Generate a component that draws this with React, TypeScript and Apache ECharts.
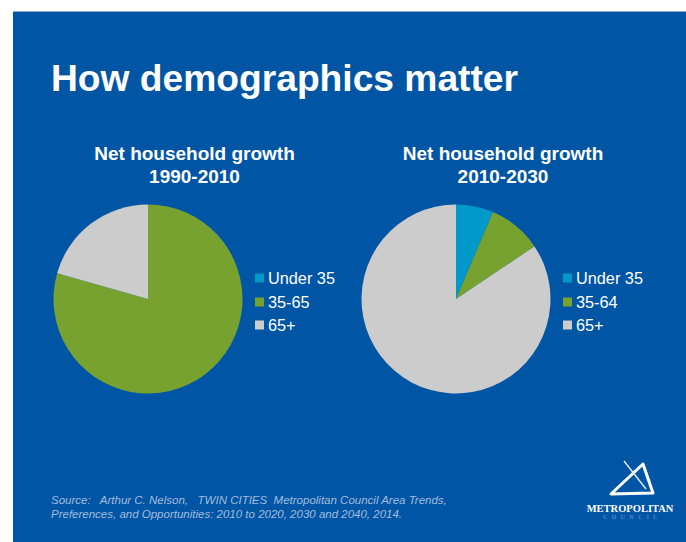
import React, { useEffect, useRef } from "react";
import * as echarts from "echarts";

const categoriesLeft = ["Under 35", "35-65", "65+"];
const valuesLeft = [0, 79.4, 20.6];
const categoriesRight = ["Under 35", "35-64", "65+"];
const valuesRight = [6.4, 9.2, 84.4];
const colors = ["#0099C9", "#78A22F", "#CCCCCC"];

const titleMain = "How demographics matter";
const titleLeft = ["Net household growth", "1990-2010"];
const titleRight = ["Net household growth", "2010-2030"];
const sourceLines = [
  "Source:   Arthur C. Nelson,   TWIN CITIES  Metropolitan Council Area Trends,",
  "Preferences, and Opportunities: 2010 to 2020, 2030 and 2040, 2014.",
];

const FONT = "'Liberation Sans', Arial, sans-serif";
const BG = "#0055A5";

export default function App() {
  const ref = useRef<HTMLDivElement>(null);
  useEffect(() => {
    if (!ref.current) return;
    const chart = echarts.init(ref.current, undefined, { renderer: "svg" });

    const legendTops = [270, 294, 317];
    const mkLegends = (cats: string[], left: number) =>
      cats.map((c, i) => ({
        data: [c],
        left,
        top: legendTops[i],
        orient: "vertical",
        icon: "rect",
        itemWidth: 9,
        itemHeight: 9,
        itemGap: 4,
        padding: 0,
        selectedMode: false,
        textStyle: { color: "#FFFFFF", fontSize: 16.3, fontFamily: FONT, padding: [3, 0, 0, -1] },
      }));

    const mkPie = (data: number[], cats: string[], cx: number) => ({
      type: "pie",
      center: [cx, 299],
      radius: 94.5,
      startAngle: 90,
      clockwise: true,
      label: { show: false },
      labelLine: { show: false },
      silent: true,
      minAngle: 0,
      stillShowZeroSum: false,
      itemStyle: { borderWidth: 0 },
      data: data.map((v, i) => ({ name: cats[i], value: v, itemStyle: { color: colors[i] } })),
    });

    const sub = (text: string, x: number, y: number) => ({
      type: "text", x, y,
      style: { text, fill: "#FFFFFF", font: `bold 19px ${FONT}`, textAlign: "center", textVerticalAlign: "middle" },
    });

    chart.setOption({
      animation: false,
      backgroundColor: "#FFFFFF",
      color: colors,
      legend: [...mkLegends(categoriesLeft, 255), ...mkLegends(categoriesRight, 563)],
      graphic: [
        { type: "rect", shape: { x: 13, y: 11, width: 673, height: 531 }, style: { fill: BG }, z: -10 },
        { type: "line", shape: { x1: 13, y1: 11.5, x2: 686, y2: 11.5 }, style: { stroke: "#8FA9CF", lineWidth: 1 }, z: -9 },
        {
          type: "text", x: 51, y: 78,
          style: { text: titleMain, fill: "#FFFFFF", font: `bold 37.2px ${FONT}`, textVerticalAlign: "middle" },
        },
        sub(titleLeft[0], 194.5, 153),
        sub(titleLeft[1], 194.5, 176),
        sub(titleRight[0], 503, 153),
        sub(titleRight[1], 503, 176),
        {
          type: "text", x: 51, y: 500,
          style: { text: sourceLines[0], fill: "#A3BCDD", font: `italic 11.5px ${FONT}`, textVerticalAlign: "middle" },
        },
        {
          type: "text", x: 51, y: 513.5,
          style: { text: sourceLines[1], fill: "#A3BCDD", font: `italic 11.5px ${FONT}`, textVerticalAlign: "middle" },
        },
        // logo
        {
          type: "polygon",
          shape: { points: [[643, 464], [611, 494], [653, 493]] },
          style: { fill: "none", stroke: "#FFFFFF", lineWidth: 3, lineJoin: "round" },
        },
        {
          type: "line",
          shape: { x1: 624, y1: 461, x2: 646, y2: 489 },
          style: { stroke: "#DDE6F2", lineWidth: 1.5 },
        },
        {
          type: "text", x: 630, y: 508,
          style: { text: "METROPOLITAN", fill: "#FFFFFF", font: `bold 10.5px 'Liberation Serif', serif`, textAlign: "center", textVerticalAlign: "middle" },
        },
        {
          type: "text", x: 630, y: 517,
          style: { text: "C   O   U   N   C   I   L", fill: "#7F9FCC", font: `6px 'Liberation Serif', serif`, textAlign: "center", textVerticalAlign: "middle" },
        },
      ],
      series: [mkPie(valuesLeft, categoriesLeft, 148), mkPie(valuesRight, categoriesRight, 456)],
    });
    return () => chart.dispose();
  }, []);
  return (
    <div
      ref={ref}
      style={{ position: "fixed", left: 0, top: 0, width: 686, height: 542 }}
    />
  );
}
